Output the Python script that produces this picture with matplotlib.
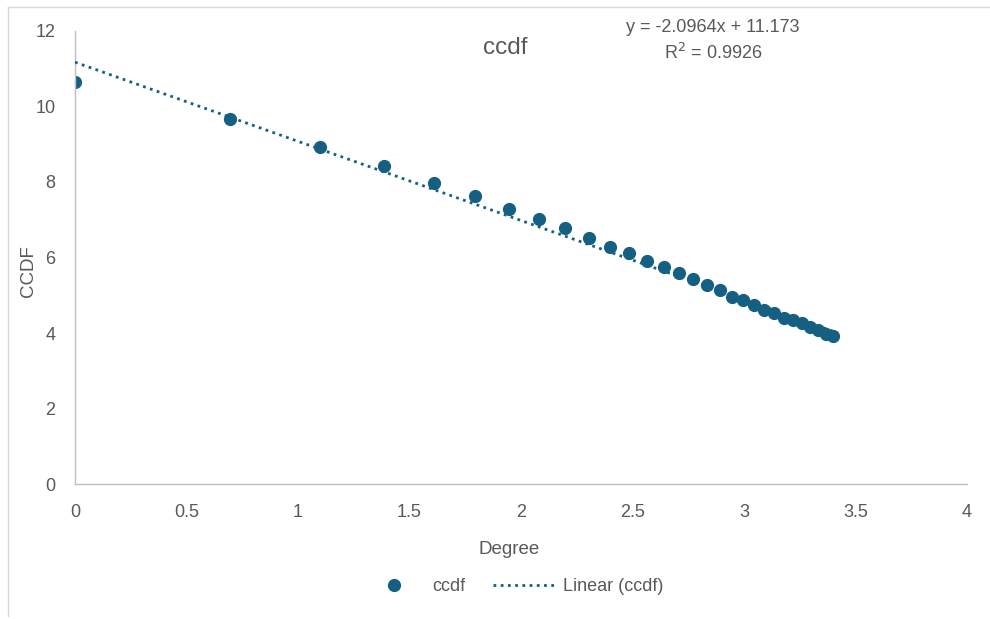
import numpy as np
import matplotlib.pyplot as plt
from matplotlib.lines import Line2D

# data (x = ln of degree)
degree = [0.0, 0.693, 1.099, 1.386, 1.609, 1.792, 1.946, 2.079, 2.197, 2.303,
          2.398, 2.485, 2.565, 2.639, 2.708, 2.773, 2.833, 2.890, 2.944, 2.996,
          3.045, 3.091, 3.135, 3.178, 3.219, 3.258, 3.296, 3.332, 3.367, 3.401]
ccdf = [10.65, 9.67, 8.93, 8.42, 7.97, 7.63, 7.28, 7.02, 6.78, 6.52,
        6.28, 6.12, 5.91, 5.75, 5.59, 5.43, 5.27, 5.14, 4.95, 4.87,
        4.74, 4.61, 4.53, 4.40, 4.34, 4.26, 4.16, 4.08, 3.97, 3.92]
slope, intercept, r2 = -2.0964, 11.173, 0.9926

blue = '#156082'
grey = '#595959'
plt.rcParams['font.family'] = ['Liberation Sans', 'DejaVu Sans']

fig = plt.figure(figsize=(9.9, 6.19), dpi=100)
ax = fig.add_axes([0.0758, 0.218, 0.901, 0.732])

# trendline
xt = np.array([0, max(degree)])
ax.plot(xt, slope * xt + intercept, color=blue, lw=2, linestyle=(0, (1, 1.6)), zorder=3)
ax.plot(degree, ccdf, 'o', color=blue, markersize=8.5, zorder=2)

ax.set_xlim(0, 4)
ax.set_ylim(0, 12)
ax.set_xticks(np.arange(0, 4.01, 0.5))
ax.set_xticklabels(['0', '0.5', '1', '1.5', '2', '2.5', '3', '3.5', '4'])
ax.set_yticks(range(0, 13, 2))
ax.tick_params(length=0, labelsize=13, labelcolor=grey)
ax.tick_params(axis='x', pad=14)
ax.tick_params(axis='y', pad=14)
for s in ['top', 'right']:
    ax.spines[s].set_visible(False)
for s in ['left', 'bottom']:
    ax.spines[s].set_color('#bfbfbf')
    ax.spines[s].set_linewidth(1)

ax.set_xlabel('Degree', fontsize=13.5, color=grey)
ax.set_ylabel('CCDF', fontsize=13.5, color=grey)
ax.xaxis.set_label_coords(0.487, -0.126)
ax.yaxis.set_label_coords(-0.043, 0.47)

fig.text(0.51, 0.922, 'ccdf', fontsize=17.5, color=grey, ha='center', va='center')
fig.text(0.72, 0.956, 'y = -2.0964x + 11.173', fontsize=13, color=grey, ha='center', va='center')
fig.text(0.72, 0.914, 'R$^2$ = 0.9926', fontsize=13, color=grey, ha='center', va='center')

handles = [Line2D([], [], marker='o', color=blue, linestyle='none', markersize=8.5),
           Line2D([], [], color=blue, lw=2, linestyle=(0, (1, 1.6)))]
fig.legend(handles, ['ccdf', 'Linear (ccdf)'], loc='center', bbox_to_anchor=(0.518, 0.052),
           ncol=2, frameon=False, fontsize=13, labelcolor=grey, handlelength=3.5,
           columnspacing=1.5, handletextpad=0.4)

# screenshot border of the spreadsheet
fig.add_artist(Line2D([8 / 990, 1], [1 - 7 / 619, 1 - 7 / 619], color='#d9d9d9', lw=1))
fig.add_artist(Line2D([8 / 990, 8 / 990], [0.005, 1 - 7 / 619], color='#d9d9d9', lw=1))

fig.savefig('out.png', dpi=100)
